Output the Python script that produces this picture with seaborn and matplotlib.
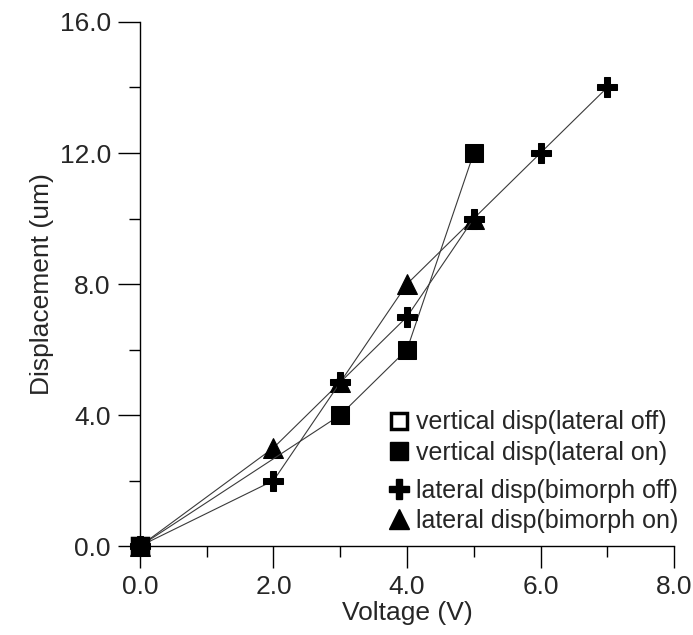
import matplotlib
matplotlib.use("Agg")
import matplotlib.pyplot as plt
import seaborn as sns
import pandas as pd
from matplotlib.ticker import MultipleLocator, FormatStrFormatter
from matplotlib.lines import Line2D

sns.set_style("ticks")
plt.rcParams['font.family'] = ['Liberation Sans', 'DejaVu Sans']

# Data
vert_off_x = [0]
vert_off_y = [0]
vert_on_x = [0, 3, 4, 5]
vert_on_y = [0, 4, 6, 12]
lat_off_x = [0, 2, 3, 4, 5, 6, 7]
lat_off_y = [0, 2, 5, 7, 10, 12, 14]
lat_on_x = [0, 2, 3, 4, 5]
lat_on_y = [0, 3, 5, 8, 10]

labels = ["vertical disp(lateral off)", "vertical disp(lateral on)",
          "lateral disp(bimorph off)", "lateral disp(bimorph on)"]

fig = plt.figure(figsize=(6.93, 6.35), dpi=100)
ax = fig.add_axes([0.202, 0.140, 0.7706, 0.8254])

line_kw = dict(color="#3a3a3a", linewidth=0.8, ax=ax, legend=False, sort=False,
               markeredgecolor="black", markerfacecolor="black")

sns.lineplot(x=lat_on_x, y=lat_on_y, marker="^", markersize=14, **line_kw)
sns.lineplot(x=vert_on_x, y=vert_on_y, marker="s", markersize=13, **line_kw)
sns.lineplot(x=lat_off_x, y=lat_off_y, marker="P", markersize=15, **line_kw)
sns.lineplot(x=vert_off_x, y=vert_off_y, color="#3a3a3a", linewidth=0.8, ax=ax,
             legend=False, marker="s", markersize=11, markerfacecolor="white",
             markeredgecolor="black", markeredgewidth=2.5)
sns.lineplot(x=vert_on_x[:1], y=vert_on_y[:1], marker="s", markersize=13, **line_kw)

for ln in ax.lines:
    ln.set_clip_on(False)

ax.set_xlim(0, 8)
ax.set_ylim(0, 16)
ax.xaxis.set_major_locator(MultipleLocator(2))
ax.xaxis.set_minor_locator(MultipleLocator(1))
ax.yaxis.set_major_locator(MultipleLocator(4))
ax.yaxis.set_minor_locator(MultipleLocator(2))
ax.xaxis.set_major_formatter(FormatStrFormatter("%.1f"))
ax.yaxis.set_major_formatter(FormatStrFormatter("%.1f"))
ax.tick_params(axis="both", which="major", direction="out", length=16, width=1,
               labelsize=19, color="black", pad=5)
ax.tick_params(axis="both", which="minor", direction="out", length=8, width=1,
               color="black")
for s in ["top", "right"]:
    ax.spines[s].set_visible(False)
for s in ["left", "bottom"]:
    ax.spines[s].set_color("black")
    ax.spines[s].set_linewidth(1)

ax.set_xlabel("Voltage (V)", fontsize=19, labelpad=1)
ax.set_ylabel("Displacement (um)", fontsize=19, labelpad=4)

h1 = [Line2D([], [], linestyle="none", marker="s", markersize=11, markerfacecolor="white",
             markeredgecolor="black", markeredgewidth=2.5),
      Line2D([], [], linestyle="none", marker="s", markersize=13, color="black")]
h2 = [Line2D([], [], linestyle="none", marker="P", markersize=15, color="black"),
      Line2D([], [], linestyle="none", marker="^", markersize=14, color="black")]
leg_kw = dict(frameon=False, fontsize=18, handlelength=0.8, handletextpad=0.3,
              labelspacing=0.25, borderaxespad=0, borderpad=0)
leg1 = ax.legend(h1, labels[:2], loc="center left", bbox_to_anchor=(0.466, 0.207), **leg_kw)
ax.add_artist(leg1)
ax.legend(h2, labels[2:], loc="center left", bbox_to_anchor=(0.466, 0.077), **leg_kw)

fig.savefig("out.png", dpi=100, facecolor="white")
